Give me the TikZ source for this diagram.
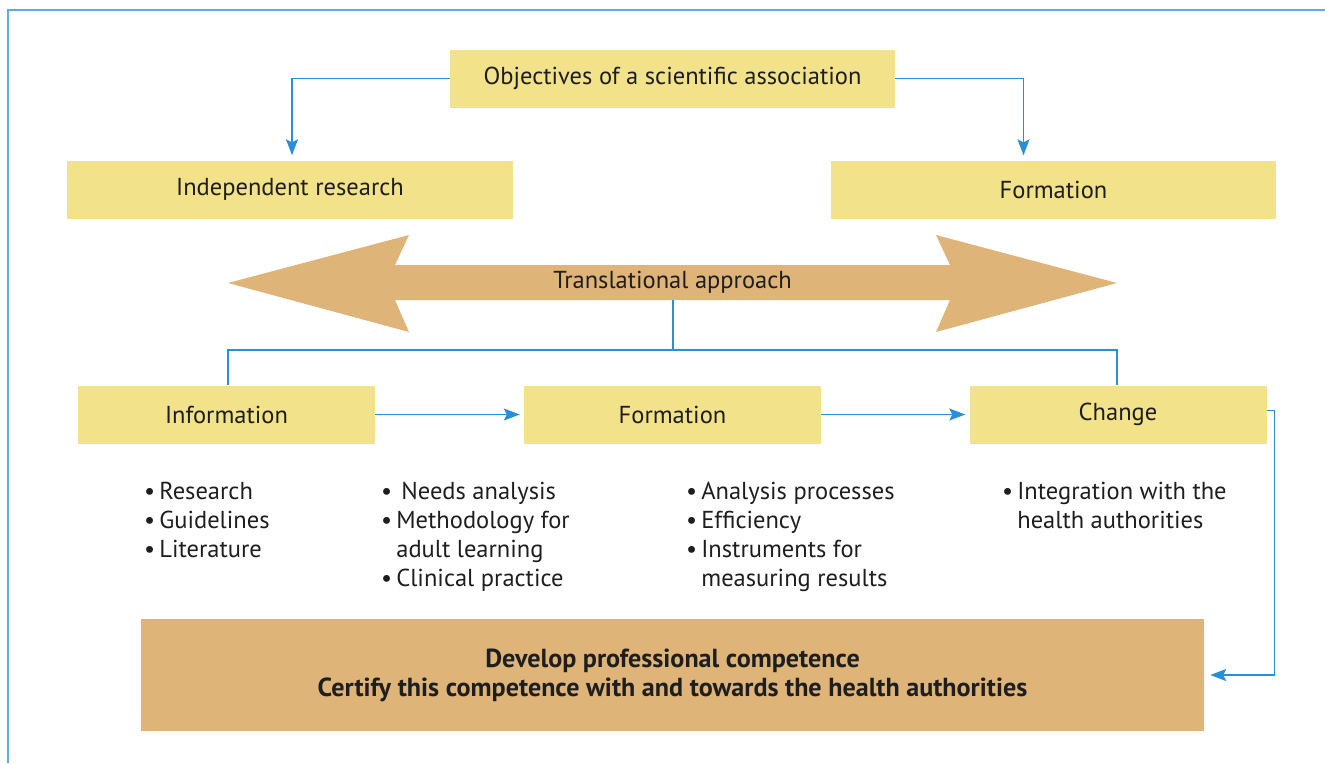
\documentclass[tikz,border=0pt]{standalone}
\usepackage{fontspec}
\setmainfont{PT Sans}
\usetikzlibrary{arrows.meta}
\definecolor{boxyellow}{HTML}{F2E28A}
\definecolor{boxtan}{HTML}{DEB478}
\definecolor{linkblue}{HTML}{2A8FD6}
\definecolor{frameblue}{HTML}{5AAEE2}
\definecolor{ink}{HTML}{1E1E1E}
\newcommand{\labelfont}{\fontsize{24.5}{29}\selectfont}
\newcommand{\outcomefont}{\fontsize{26.1}{29}\selectfont\bfseries}
\begin{document}
\begin{tikzpicture}[x=1pt,y=-1pt,
  ybox/.style={fill=boxyellow, draw=none, minimum width=#1, minimum height=58,
    inner sep=0pt, text=ink, font=\labelfont},
  link/.style={draw=linkblue, line width=1.3pt},
  arrowlink/.style={link, -{Stealth[length=16pt, width=12pt, inset=3pt]}},
  bulletlist/.style={anchor=base west, inner sep=0pt, text=ink, font=\labelfont}
]
\useasboundingbox (0,0) rectangle (1325,763);
% frame
\draw[frameblue, line width=1.5pt] (8,763) -- (8,10) -- (1325,10);

% top level
\node[ybox=445] (obj) at (672.5,78.5) {Objectives of a scientific association};
\node[ybox=446] (indep) at (290,189.5) {Independent research};
\node[ybox=445] (formtop) at (1053.5,189.5) {Formation};

\draw[arrowlink, shorten >=5pt] (obj.west) -| ([xshift=2pt]indep.north);
\draw[arrowlink, shorten >=5pt] (obj.east) -| ([xshift=-30pt]formtop.north);

% translational double arrow
\fill[boxtan] (228,283) -- (409,235) -- (395,265) -- (950,265) -- (936,235)
  -- (1117,283) -- (936,332) -- (950,300) -- (395,300) -- (409,332) -- cycle;
\node[text=ink, font=\labelfont, inner sep=0pt] (transl) at (672.5,282) {Translational approach};
\coordinate (stem) at (673,300);
\coordinate (split) at (673,350);

% second level
\node[ybox=297] (info) at (226.5,414.5) {Information};
\node[ybox=297] (formmid) at (672.5,414.5) {Formation};
\node[ybox=297] (change) at (1118,414.5) {Change};

\draw[link] (stem) -- (split);
\draw[link] ([xshift=1.5pt]info.north) |- (split) -| ([xshift=-1pt]change.north);
\draw[arrowlink, shorten >=4pt] (info.east) -- (formmid.west);
\draw[arrowlink, shorten >=4pt] (formmid.east) -- (change.west);

% bullet lists
\node[bulletlist] (listinfo) at (144,499) {\begin{tabular}[t]{@{}l@{\,}l@{}}
  • & Research\\ • & Guidelines\\ • & Literature\end{tabular}};
\node[bulletlist] (listform) at (381,499) {\begin{tabular}[t]{@{}l@{\,}l@{}}
  • & \hspace{5pt}Needs analysis\\ • & Methodology for\\ & adult learning\\
  • & Clinical practice\end{tabular}};
\node[bulletlist] (listeval) at (686,499) {\begin{tabular}[t]{@{}l@{\,}l@{}}
  • & Analysis processes\\ • & Efficiency\\ • & Instruments for\\
  & measuring results\end{tabular}};
\node[bulletlist] (listchange) at (1002,499) {\begin{tabular}[t]{@{}l@{\,}l@{}}
  • & Integration with the\\ & health authorities\end{tabular}};

% outcome
\node[fill=boxtan, minimum width=1063, minimum height=112, inner sep=0pt,
  align=center, text=ink, font=\outcomefont] (dev) at (672.5,675)
  {Develop professional competence\\Certify this competence with and towards the health authorities};

\draw[arrowlink, shorten >=6pt] ([yshift=4pt]change.east) -- ++(8,0) |- (dev.east);
\end{tikzpicture}
\end{document}
